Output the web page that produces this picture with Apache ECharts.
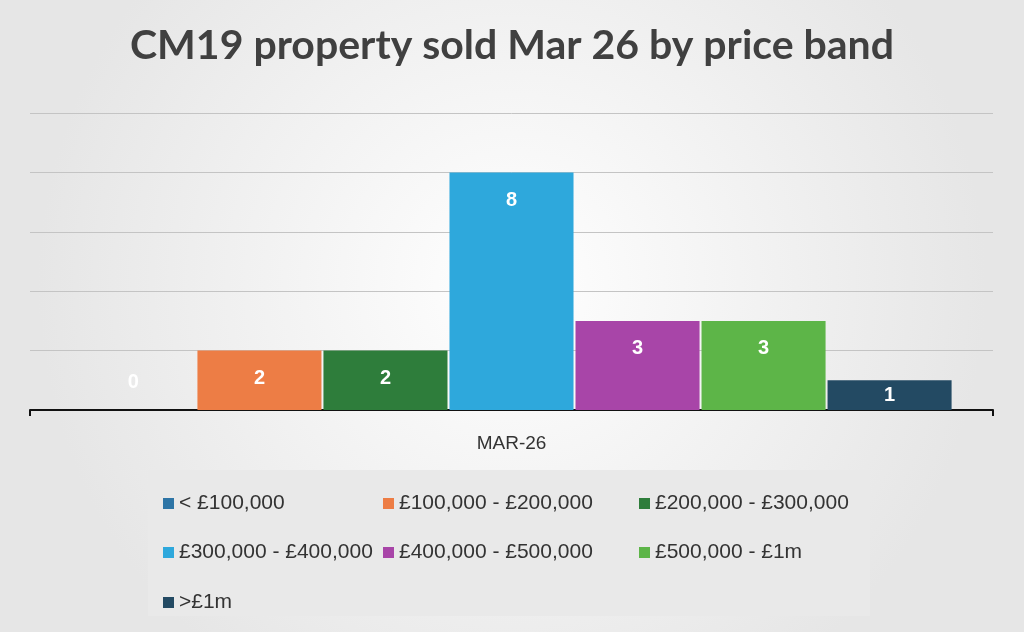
<!DOCTYPE html><html><head><meta charset="utf-8"><script src="https://cdn.jsdelivr.net/npm/echarts@6/dist/echarts.min.js"></script>
<style>html,body{margin:0;padding:0}#c{width:1024px;height:632px}</style></head><body><div id="c"></div><script>
const categories=['MAR-26'];
const bands=['< £100,000','£100,000 - £200,000','£200,000 - £300,000','£300,000 - £400,000','£400,000 - £500,000','£500,000 - £1m','>£1m'];
const values=[0,2,2,8,3,3,1];
const colors=['#2e75a6','#ed7d45','#2e7d3b','#2ea8dc','#a845a8','#5db548','#234a63'];
const legendPos=[[158,488],[378,488],[634,488],[158,537],[378,537],[634,537],[158,587]];
const chart=echarts.init(document.getElementById('c'));
function lbl(v){ if(v===0) return {position:'top',distance:18}; if(v===1) return {position:'inside'}; return {position:'insideTop',distance:18}; }
chart.setOption({
 backgroundColor:{type:'radial',x:0.5,y:0.45,r:0.75,colorStops:[{offset:0,color:'#ffffff'},{offset:1,color:'#e6e6e6'}]},
 title:{text:'CM19 property sold Mar 26 by price band',left:'center',top:20,textStyle:{fontFamily:'Lato',fontWeight:'bold',fontSize:41,color:'#404040'}},
 graphic:[{type:'rect',shape:{x:148,y:470,width:722,height:146},style:{fill:'#e9e9e9'},z:-1}],
 legend:bands.map((b,i)=>({data:[b],left:legendPos[i][0],top:legendPos[i][1],itemWidth:11,itemHeight:11,icon:'rect',itemGap:7,textStyle:{fontFamily:'Liberation Sans',fontSize:21,color:'#333'}})),
 grid:{left:30,right:31,top:113,height:297},
 xAxis:{type:'category',data:categories,axisLine:{lineStyle:{color:'#111',width:2}},axisTick:{show:true,length:6,lineStyle:{color:'#111',width:2}},axisLabel:{fontFamily:'Liberation Sans',fontSize:19,color:'#333',margin:24}},
 yAxis:{type:'value',min:0,max:10,interval:2,axisLabel:{show:false},splitLine:{lineStyle:{color:'#c4c4c4',width:1}}},
 series:bands.map((b,i)=>({name:b,type:'bar',barGap:'1.6%',barCategoryGap:'8.6%',itemStyle:{color:colors[i]},
   data:[{value:values[i],label:lbl(values[i])}],
   label:{show:true,color:'#fff',fontWeight:'bold',fontFamily:'Liberation Sans',fontSize:20}}))
});
</script></body></html>
